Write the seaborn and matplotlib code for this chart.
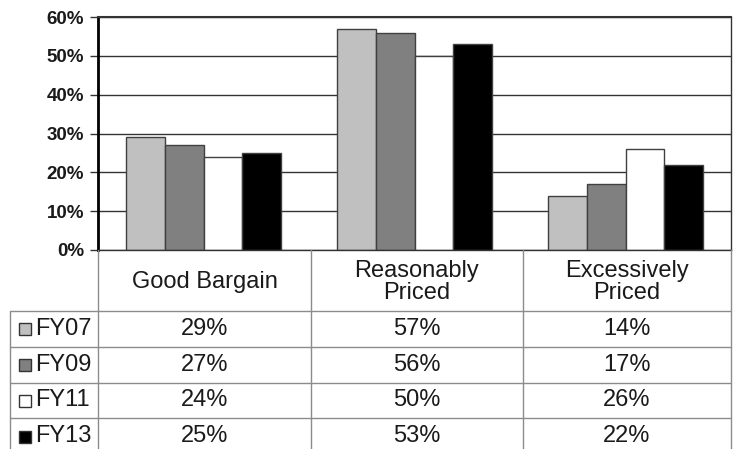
import matplotlib
matplotlib.use("Agg")
import matplotlib.pyplot as plt
import matplotlib.ticker as mtick
from matplotlib.patches import Rectangle
import pandas as pd
import seaborn as sns

# data
categories = ["Good Bargain", "Reasonably Priced", "Excessively Priced"]
header_labels = ["Good Bargain", "Reasonably\nPriced", "Excessively\nPriced"]
years = ["FY07", "FY09", "FY11", "FY13"]
fy07 = [0.29, 0.57, 0.14]
fy09 = [0.27, 0.56, 0.17]
fy11 = [0.24, 0.50, 0.26]
fy13 = [0.25, 0.53, 0.22]
colors = ["#c0c0c0", "#808080", "#ffffff", "#000000"]

series = [fy07, fy09, fy11, fy13]
rows = []
for yr, vals in zip(years, series):
    for cat, v in zip(categories, vals):
        rows.append({"category": cat, "year": yr, "value": v})
df = pd.DataFrame(rows)

sns.set_style("white")
plt.rcParams["font.family"] = ["Liberation Sans", "DejaVu Sans"]

W, H = 737, 449
fig = plt.figure(figsize=(W / 100, H / 100), dpi=100)

# plot area in pixels
left, right, top, bottom = 98, 731, 17, 250
ax = fig.add_axes([left / W, 1 - bottom / H, (right - left) / W, (bottom - top) / H])

sns.barplot(data=df, x="category", y="value", hue="year", order=categories,
            hue_order=years, palette=colors, saturation=1, width=0.73,
            edgecolor="#404040", linewidth=1, legend=False, ax=ax)

ax.set_ylim(0, 0.6)
ax.set_xlim(-0.5, 2.5)
ax.set_yticks([0, 0.1, 0.2, 0.3, 0.4, 0.5, 0.6])
ax.yaxis.set_major_formatter(mtick.PercentFormatter(1.0, decimals=0))
ax.yaxis.grid(True, color="#333333", linewidth=1)
ax.set_axisbelow(True)
ax.set_xticks([])
ax.set_xlabel("")
ax.set_ylabel("")
ax.tick_params(axis="y", left=True, length=5.5, width=1, color="#333333",
               labelsize=13.5, pad=4.5, labelcolor="#1a1a1a")
for lab in ax.get_yticklabels():
    lab.set_fontweight("bold")
for side, sp in ax.spines.items():
    sp.set_visible(True)
    sp.set_color("#333333")
    sp.set_linewidth(1)
ax.spines["left"].set_linewidth(2)
ax.spines["left"].set_color("#000000")
ax.spines["top"].set_linewidth(1.5)

# data table under the chart, drawn in pixel coordinates
tab = fig.add_axes([0, 0, 1, 1])
tab.set_xlim(0, W)
tab.set_ylim(H, 0)
tab.axis("off")
tab.patch.set_alpha(0)

col_x = [98, 311, 523, 731]
row_y = [310.7, 346.7, 383, 418, 455]
grid_c = "#8c8c8c"
txt_c = "#1a1a1a"
fs = 17

for x in col_x:
    tab.plot([x, x], [bottom, H], color=grid_c, lw=1)
tab.plot([10, 10], [row_y[0], H], color=grid_c, lw=1)
for y in row_y[:-1]:
    tab.plot([10, right], [y, y], color=grid_c, lw=1)

for i, lab in enumerate(header_labels):
    cx = (col_x[i] + col_x[i + 1]) / 2
    tab.text(cx, 282, lab, ha="center", va="center", fontsize=fs,
             color=txt_c, linespacing=1.0)

for r, (yr, vals) in enumerate(zip(years, series)):
    cy = (row_y[r] + row_y[r + 1]) / 2
    tab.add_patch(Rectangle((19, cy - 6), 12, 12, facecolor=colors[r],
                            edgecolor="#333333", lw=1))
    tab.text(35, cy, yr, ha="left", va="center", fontsize=fs, color=txt_c)
    for i, v in enumerate(vals):
        cx = (col_x[i] + col_x[i + 1]) / 2
        tab.text(cx, cy, f"{v * 100:.0f}%", ha="center", va="center",
                 fontsize=fs, color=txt_c)

fig.savefig("out.png", dpi=100)
